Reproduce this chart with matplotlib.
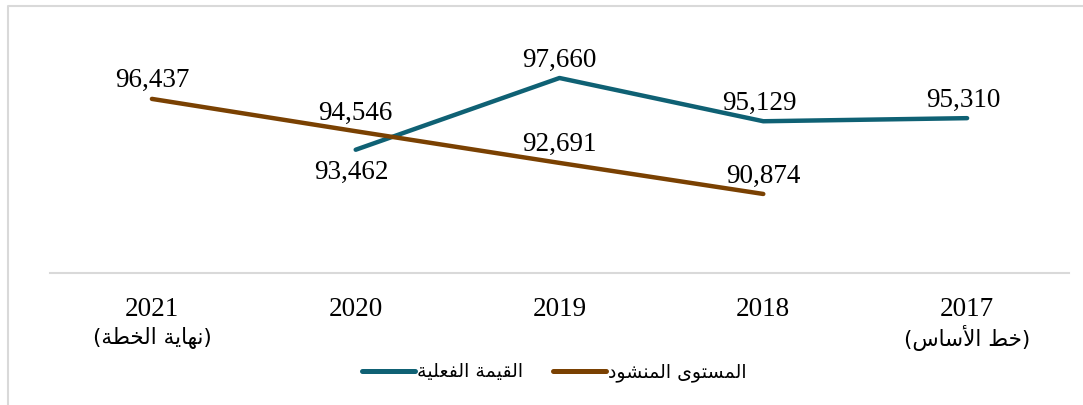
import matplotlib.pyplot as plt
from matplotlib.lines import Line2D

# categories, shown right-to-left (2017 on the right)
years = [2017, 2018, 2019, 2020, 2021]
year_labels = ['2017', '2018', '2019', '2020', '2021']

# actual value (teal), no value for 2021
actual_years = [2017, 2018, 2019, 2020]
actual_vals = [95310, 95129, 97660, 93462]

# target level (brown), starts in 2018
target_years = [2018, 2019, 2020, 2021]
target_vals = [90874, 92691, 94546, 96437]

# arabic strings pre-shaped in visual order (matplotlib does no RTL shaping)
sub_2017 = '(\ufeb1\ufe8e\ufeb3\ufef7\ufe8d \ufec2\ufea7)'           # (خط الأساس)
sub_2021 = '(\ufe94\ufec4\ufea8\ufedf\ufe8d \ufe94\ufef3\ufe8e\ufeec\ufee7)'  # (نهاية الخطة)
lbl_actual = ('\ufe94\ufef4\ufee0\ufecc\ufed4\ufedf\ufe8d '
              '\ufe94\ufee4\ufef4\ufed8\ufedf\ufe8d')             # القيمة الفعلية
lbl_target = ('\ufea9\ufeee\ufeb8\ufee8\ufee4\ufedf\ufe8d '
              '\ufeef\ufeee\ufe98\ufeb4\ufee4\ufedf\ufe8d')       # المستوى المنشود

TEAL = '#0f6174'
BROWN = '#7a4102'
SERIF = ['Liberation Serif', 'DejaVu Sans']
ARAB = ['DejaVu Sans']

fig = plt.figure(figsize=(10.83, 4.05), dpi=100)
ax = fig.add_axes([50 / 1083, 132 / 405, 1019 / 1083, 235 / 405])

ax.plot(actual_years, actual_vals, color=TEAL, lw=3.2, solid_capstyle='round',
        solid_joinstyle='round')
ax.plot(target_years, target_vals, color=BROWN, lw=3.2, solid_capstyle='round',
        solid_joinstyle='round')

# data labels
for x, v in zip(actual_years, actual_vals):
    dy = -16 if x == 2020 else 13
    dx = 0 if x == 2019 else -3
    ax.annotate(f'{v:,}', (x, v), xytext=(dx, dy), textcoords='offset points',
                ha='center', va='center', fontsize=19.5, family=SERIF)
for x, v in zip(target_years, target_vals):
    ax.annotate(f'{v:,}', (x, v), xytext=(0, 13), textcoords='offset points',
                ha='center', va='center', fontsize=19.5, family=SERIF)

ax.set_xlim(2021.5, 2016.5)
ax.set_ylim(86250, 100000)
ax.set_xticks(years)
ax.set_xticklabels(year_labels, fontsize=19.5, family=SERIF)
ax.tick_params(axis='x', length=0, pad=17)
ax.set_yticks([])
for s in ['top', 'right', 'left']:
    ax.spines[s].set_visible(False)
ax.spines['bottom'].set_color('#d9d9d9')
ax.spines['bottom'].set_linewidth(1.5)

# second line under the first and last year
for x, t in [(2017, sub_2017), (2021, sub_2021)]:
    ax.annotate(t, (x, 0), xycoords=ax.get_xaxis_transform(), xytext=(0, -47),
                textcoords='offset points', ha='center', va='center',
                fontsize=15.5, family=ARAB)

# legend
handles = [Line2D([], [], color=TEAL, lw=3.6, solid_capstyle='round'),
           Line2D([], [], color=BROWN, lw=3.6, solid_capstyle='round')]
fig.legend(handles, [lbl_actual, lbl_target], loc='center',
           bbox_to_anchor=(554 / 1083, 1 - 372 / 405), ncol=2, frameon=False,
           prop={'family': ARAB, 'size': 13.6}, handlelength=2.8,
           handletextpad=0.1, columnspacing=1.6)

# chart border (left and top edges only visible)
fig.add_artist(Line2D([8 / 1083, 8 / 1083, 1.0], [0, 1 - 6 / 405, 1 - 6 / 405],
                      transform=fig.transFigure, color='#d9d9d9', lw=1.5))

fig.savefig('out.png', dpi=100)
